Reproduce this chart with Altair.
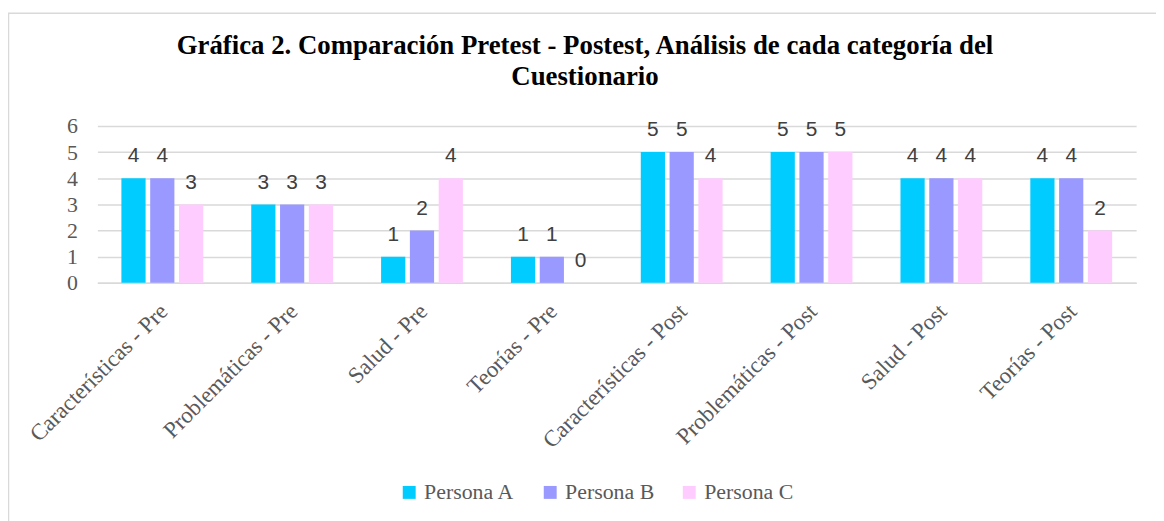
import altair as alt
import pandas as pd

categories = ["Características - Pre", "Problemáticas - Pre", "Salud - Pre", "Teorías - Pre",
              "Características - Post", "Problemáticas - Post", "Salud - Post", "Teorías - Post"]
persons = ["Persona A", "Persona B", "Persona C"]
persona_a = [4, 3, 1, 1, 5, 5, 4, 4]
persona_b = [4, 3, 2, 1, 5, 5, 4, 4]
persona_c = [3, 3, 4, 0, 4, 5, 4, 2]
colors = ["#00CCFF", "#9999FF", "#FFCCFF"]
y_ticks = [0, 1, 2, 3, 4, 5, 6]

rows = []
for series, name in zip([persona_a, persona_b, persona_c], persons):
    for cat, v in zip(categories, series):
        rows.append({"cat": cat, "persona": name, "value": v})
df = pd.DataFrame(rows)

x = alt.X("cat:N", sort=categories, title=None,
          scale=alt.Scale(paddingInner=0.37, paddingOuter=0.185),
          axis=alt.Axis(labelAngle=-45, labelFont="Liberation Serif", labelFontSize=23,
                        labelColor="#595959", ticks=False, domainColor="#D9D9D9",
                        domainWidth=1.5, labelPadding=17, labelOffset=-6, labelLimit=400,
                        labelOverlap=False))
xo = alt.XOffset("persona:N", sort=persons, scale=alt.Scale(paddingInner=0.16, paddingOuter=0))
y = alt.Y("value:Q", title=None,
          scale=alt.Scale(domain=[0, 6], nice=False),
          axis=alt.Axis(values=y_ticks, format="d", labelFont="Liberation Serif",
                        labelFontSize=22, labelColor="#595959", ticks=False, domain=False,
                        gridColor="#D9D9D9", gridWidth=1.5, labelPadding=20, labelOverlap=False,
                        tickCount=7))

bars = alt.Chart(df).mark_bar().encode(
    x=x, xOffset=xo, y=y,
    color=alt.Color("persona:N", sort=persons, title=None,
                    scale=alt.Scale(domain=persons, range=colors),
                    legend=alt.Legend(orient="none", direction="horizontal", legendX=303, legendY=358,
                                      symbolType="square", symbolSize=169, symbolStrokeWidth=0,
                                      labelFont="Liberation Serif", labelFontSize=22,
                                      labelColor="#595959", columnPadding=24, labelOffset=4,
                                      padding=0)),
)
labels = alt.Chart(df).mark_text(baseline="alphabetic", dy=-16, font="Liberation Sans",
                                 fontSize=21, color="#404040").encode(
    x=x, xOffset=xo, y=y, text="value:Q")

frame = alt.Chart(pd.DataFrame({"f": [0]})).mark_rect(
    fill=None, stroke="#D9D9D9", strokeWidth=1.5, clip=False).encode(
    x=alt.value(-89.5), x2=alt.value(1200), y=alt.value(-113.5), y2=alt.value(600))

chart = alt.layer(frame, bars, labels).properties(
    width=1046, height=158,
    autosize=alt.AutoSizeParams(type="none"),
    padding={"left": 90, "top": 117, "right": 20, "bottom": 238},
    title=alt.TitleParams(
        text=["Gráfica 2. Comparación Pretest - Postest, Análisis de cada categoría del", "Cuestionario"],
        font="Liberation Serif", fontSize=27, fontWeight="bold", color="#000000",
        anchor="middle", dx=-32, offset=-79, lineHeight=31),
).configure(background="white").configure_view(stroke=None).configure_legend(
    labelFont="Liberation Serif", labelFontSize=22, labelColor="#595959",
    symbolSize=169, symbolType="square", columnPadding=24, labelOffset=4)

chart.save("out.html", embed_options={"renderer": "svg", "actions": False})
